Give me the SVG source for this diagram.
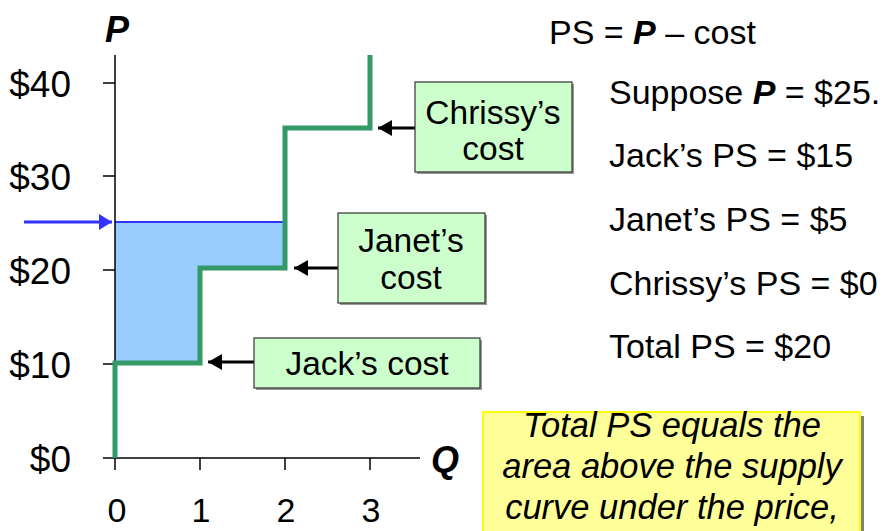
<svg xmlns="http://www.w3.org/2000/svg" width="884" height="531" viewBox="0 0 884 531">
  <style>
    text { font-family: "Liberation Sans", Arial, sans-serif; fill: #000; }
    .tick { font-size: 37px; text-anchor: end; }
    .qlab { font-size: 34px; text-anchor: middle; }
    .axisname { font-size: 36px; font-weight: bold; font-style: italic; }
    .side { font-size: 34px; }
    .boxtxt { font-size: 33.5px; text-anchor: middle; }
    .note { font-size: 34.5px; font-style: italic; text-anchor: middle; }
    .axis { stroke: #000; stroke-width: 1.5; fill: none; }
    .label-box { fill: #CCFFCC; stroke: #333; stroke-width: 1.2; }
    .shadow { fill: #999; }
    .pointer { stroke: #000; stroke-width: 3; fill: none; marker-end: url(#blackHead); }
  </style>
  <defs>
    <marker id="blackHead" viewBox="0 0 14 16" refX="14" refY="8" markerWidth="14" markerHeight="16" markerUnits="userSpaceOnUse" orient="auto">
      <path d="M0,0 L14,8 L0,16 Z" fill="#000"/>
    </marker>
    <marker id="blueHead" viewBox="0 0 13 16" refX="13" refY="8" markerWidth="13" markerHeight="16" markerUnits="userSpaceOnUse" orient="auto">
      <path d="M0,0 L13,8 L0,16 Z" fill="#3333FF"/>
    </marker>
  </defs>

  <!-- producer surplus area -->
  <g id="surplus-area">
    <polygon points="115,222 285,222 285,268 200,268 200,363 115,363" fill="#99CCFF"/>
    <line x1="115" y1="222" x2="285" y2="222" stroke="#3333FF" stroke-width="2"/>
  </g>

  <!-- axes -->
  <g id="axes">
    <line class="axis" x1="115" y1="55" x2="115" y2="458"/>
    <line class="axis" x1="103" y1="458" x2="420" y2="458"/>
    <line class="axis" x1="103" y1="83" x2="115" y2="83"/>
    <line class="axis" x1="103" y1="176" x2="115" y2="176"/>
    <line class="axis" x1="103" y1="270" x2="115" y2="270"/>
    <line class="axis" x1="103" y1="364" x2="115" y2="364"/>
    <line class="axis" x1="115" y1="458" x2="115" y2="470"/>
    <line class="axis" x1="200" y1="458" x2="200" y2="470"/>
    <line class="axis" x1="285" y1="458" x2="285" y2="470"/>
    <line class="axis" x1="370" y1="458" x2="370" y2="470"/>
    <text class="axisname" x="105" y="42">P</text>
    <text class="axisname" x="431" y="472">Q</text>
    <text class="tick" x="71" y="97">$40</text>
    <text class="tick" x="71" y="190">$30</text>
    <text class="tick" x="71" y="284">$20</text>
    <text class="tick" x="71" y="378">$10</text>
    <text class="tick" x="71" y="472">$0</text>
    <text class="qlab" x="117" y="522">0</text>
    <text class="qlab" x="201" y="522">1</text>
    <text class="qlab" x="286" y="522">2</text>
    <text class="qlab" x="371" y="522">3</text>
  </g>

  <!-- supply staircase -->
  <g id="supply-curve">
    <path d="M115,458 V363 H200 V268 H285 V128 H370 V55" fill="none" stroke="#339966" stroke-width="5"/>
  </g>

  <!-- connectors -->
  <g id="connectors">
    <line x1="24" y1="222" x2="112" y2="222" stroke="#3333FF" stroke-width="3" marker-end="url(#blueHead)"/>
    <line class="pointer" x1="415" y1="128" x2="378" y2="128"/>
    <line class="pointer" x1="338" y1="268" x2="294" y2="268"/>
    <line class="pointer" x1="254" y1="362" x2="208" y2="362"/>
  </g>

  <g id="chrissy-cost">
    <rect class="shadow" x="417" y="84" width="157" height="90"/>
    <rect class="label-box" x="415" y="82" width="157" height="90"/>
    <text class="boxtxt" x="493" y="124">Chrissy’s</text>
    <text class="boxtxt" x="493" y="160">cost</text>
  </g>

  <g id="janet-cost">
    <rect class="shadow" x="340" y="215" width="147" height="90"/>
    <rect class="label-box" x="338" y="213" width="147" height="90"/>
    <text class="boxtxt" x="411" y="252">Janet’s</text>
    <text class="boxtxt" x="411" y="289">cost</text>
  </g>

  <g id="jack-cost">
    <rect class="shadow" x="256" y="340" width="226" height="50"/>
    <rect class="label-box" x="254" y="338" width="226" height="50"/>
    <text class="boxtxt" x="367" y="375">Jack’s cost</text>
  </g>

  <!-- worked example -->
  <g id="calculations">
    <text class="side" x="549" y="44">PS = <tspan font-weight="bold" font-style="italic">P</tspan> – cost</text>
    <text class="side" x="609" y="104">Suppose <tspan font-weight="bold" font-style="italic">P</tspan> = $25.</text>
    <text class="side" x="609" y="167">Jack’s PS = $15</text>
    <text class="side" x="609" y="231">Janet’s PS = $5</text>
    <text class="side" x="609" y="295">Chrissy’s PS = $0</text>
    <text class="side" x="609" y="358">Total PS = $20</text>
  </g>

  <g id="summary-note">
    <rect x="487" y="416" width="377" height="130" fill="#808080"/>
    <rect x="483" y="412" width="377" height="130" fill="#FFFF99" stroke="#FFFF00" stroke-width="2"/>
    <text class="note" x="672" y="437">Total PS equals the</text>
    <text class="note" x="672" y="478">area above the supply</text>
    <text class="note" x="672" y="519">curve under the price,</text>
  </g>
</svg>
